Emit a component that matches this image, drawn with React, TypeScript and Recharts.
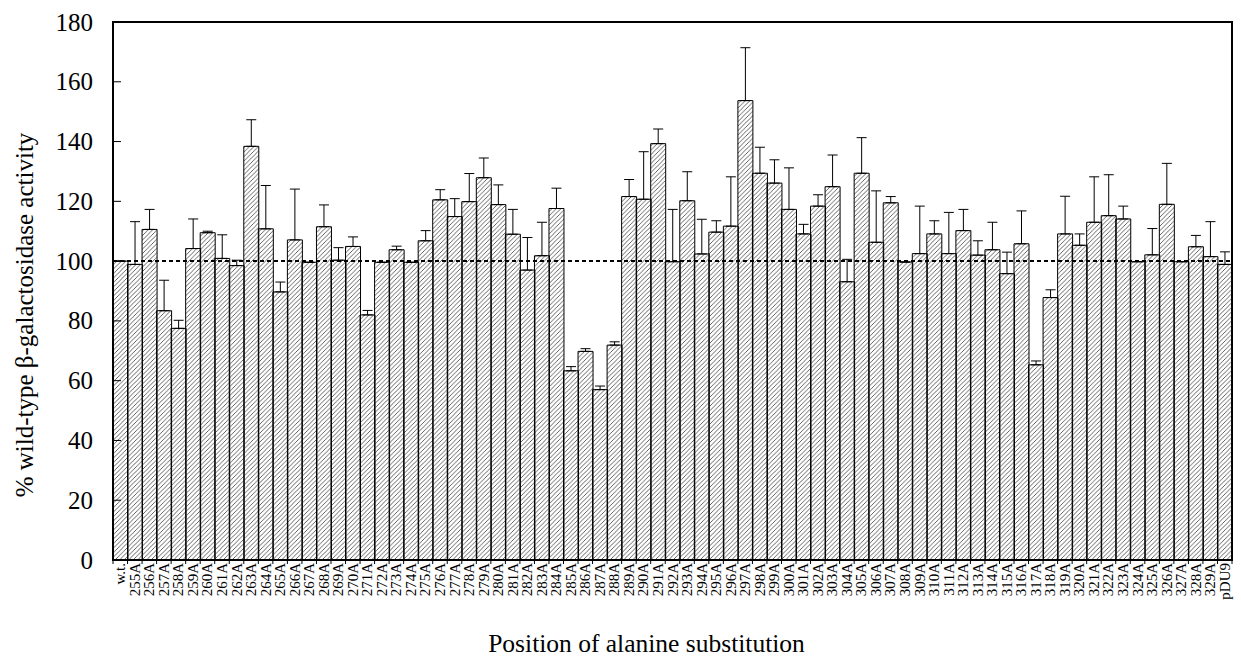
import { Bar, BarChart, ErrorBar, ReferenceArea, ReferenceLine, XAxis, YAxis } from "recharts"

// Tick labels of the x axis (one bar each)
const names = [
    "w.t.", "255A", "256A", "257A", "258A", "259A", "260A", "261A", "262A", "263A",
    "264A", "265A", "266A", "267A", "268A", "269A", "270A", "271A", "272A", "273A",
    "274A", "275A", "276A", "277A", "278A", "279A", "280A", "281A", "282A", "283A",
    "284A", "285A", "286A", "287A", "288A", "289A", "290A", "291A", "292A", "293A",
    "294A", "295A", "296A", "297A", "298A", "299A", "300A", "301A", "302A", "303A",
    "304A", "305A", "306A", "307A", "308A", "309A", "310A", "311A", "312A", "313A",
    "314A", "315A", "316A", "317A", "318A", "319A", "320A", "321A", "322A", "323A",
    "324A", "325A", "326A", "327A", "328A", "329A", "pDU9",
]

// % wild-type activity
const activity = [
    100, 98.9, 110.6, 83.4, 77.5, 104.2, 109.5, 100.9, 98.5, 138.4,
    110.8, 89.7, 107.1, 99.6, 111.5, 100.3, 104.9, 82.0, 99.6, 103.8,
    99.6, 106.8, 120.5, 114.9, 119.9, 127.9, 118.9, 109.0, 97.0, 101.8,
    117.6, 63.3, 69.8, 57.0, 71.9, 121.6, 120.7, 139.3, 99.8, 120.2,
    102.4, 109.7, 111.7, 153.7, 129.4, 126.1, 117.3, 109.1, 118.4, 124.9,
    93.1, 129.4, 106.3, 119.5, 99.7, 102.5, 109.1, 102.5, 110.2, 102.0,
    103.8, 95.8, 105.8, 65.3, 87.8, 109.1, 105.3, 113.0, 115.2, 114.1,
    99.8, 102.1, 119.0, 99.8, 104.8, 101.5, 98.9,
]

// upper whisker length (error bars only point up)
const upperError = [
    0, 14.3, 6.7, 10.2, 2.7, 9.9, 0.5, 7.9, 1.8, 8.9,
    14.5, 3.3, 17.0, 0, 7.3, 4.2, 3.2, 1.5, 0, 1.2,
    0, 3.4, 3.4, 6.0, 9.4, 6.6, 6.6, 8.3, 10.9, 11.2,
    6.8, 1.4, 0.9, 1.2, 1.1, 5.7, 15.9, 4.9, 17.5, 9.7,
    11.6, 3.8, 16.5, 17.7, 8.7, 7.8, 13.9, 3.2, 3.8, 10.6,
    7.5, 11.9, 17.2, 2.1, 0, 15.9, 4.4, 13.8, 7.1, 4.8,
    9.2, 7.2, 11.0, 1.3, 2.6, 12.6, 3.8, 15.2, 13.7, 4.3,
    0, 8.8, 13.7, 0, 3.8, 11.7, 4.2,
]

const yTicks = [0, 20, 40, 60, 80, 100, 120, 140, 160, 180]

const data = names.map((name, i) => ({
    name,
    value: activity[i],
    err: [0, upperError[i]],
}))

const W = 1241
const H = 658
const MARGIN = { top: 22, right: 9, bottom: 0, left: 0 }
const Y_AXIS_W = 113
const HALF_BAND = (W - MARGIN.right - Y_AXIS_W) / names.length / 2

const FONT = "'Liberation Serif', 'Times New Roman', serif"

const YTick = ({ x, y, payload }: { x: number, y: number, payload: { value: number } }) => (
    <g>
        <text x={x} y={y} textAnchor="end" dominantBaseline="central" fontSize={25} fontFamily={FONT} fill="#000">
            {payload.value}
        </text>
        <line x1={x + 20} x2={x + 28} y1={y} y2={y} stroke="#000" strokeWidth={1} />
    </g>
)

const XTick = ({ x, y, payload, index }: { x: number, y: number, payload: { value: string }, index: number }) => (
    <g>
        {/* little ticks on the category boundaries */}
        <line x1={x - HALF_BAND} x2={x - HALF_BAND} y1={y - 3} y2={y + 2} stroke="#000" strokeWidth={1} />
        {index === names.length - 1 && (
            <line x1={x + HALF_BAND} x2={x + HALF_BAND} y1={y - 3} y2={y + 2} stroke="#000" strokeWidth={1} />
        )}
        <g transform={`translate(${x},${y + 1}) rotate(-90)`}>
            <text x={0} y={0} textAnchor="end" dominantBaseline="central" fontSize={15} fontFamily={FONT} fill="#000">
                {payload.value}
            </text>
        </g>
    </g>
)

const YLabel = () => (
    <text x={24} y={315} transform="rotate(-90 24 315)" textAnchor="middle" dominantBaseline="central" fontSize={25} fontFamily={FONT} fill="#000">
        % wild-type β-galactosidase activity
    </text>
)

export default function App() {
    return (
        <div style={{ position: "absolute", left: 0, top: 0 }}>
            <BarChart width={W} height={H} data={data} margin={MARGIN} barCategoryGap={0}>
                <defs>
                    <pattern id="hatch" patternUnits="userSpaceOnUse" width={4.5} height={4.5}>
                        <path d="M0,4.5 L4.5,0 M-1,1 L1,-1 M3.5,5.5 L5.5,3.5" stroke="#222" strokeWidth={0.7} />
                    </pattern>
                </defs>
                <XAxis
                    dataKey="name"
                    interval={0}
                    tick={XTick}
                    tickLine={false}
                    tickSize={0}
                    tickMargin={2}
                    height={H - 560}
                    axisLine={{ stroke: "#000", strokeWidth: 1.5 }}
                    label={{
                        value: "Position of alanine substitution",
                        position: "insideBottom",
                        offset: 6,
                        dx: -26,
                        style: { fontSize: 25.5, fontFamily: FONT, fill: "#000" },
                    }}
                />
                <YAxis
                    domain={[0, 180]}
                    ticks={yTicks}
                    tick={YTick}
                    tickLine={false}
                    tickSize={0}
                    tickMargin={20}
                    width={Y_AXIS_W}
                    axisLine={{ stroke: "#000", strokeWidth: 1.5 }}
                    label={YLabel}
                />
                <Bar dataKey="value" fill="url(#hatch)" stroke="#000" strokeWidth={1} isAnimationActive={false}>
                    <ErrorBar dataKey="err" direction="y" width={5} stroke="#000" strokeWidth={1} />
                </Bar>
                <ReferenceLine y={100} stroke="#000" strokeWidth={2} strokeDasharray="4 3" />
                <ReferenceArea y1={0} y2={180} fill="none" stroke="#000" strokeWidth={2} ifOverflow="visible" />
            </BarChart>
        </div>
    )
}
